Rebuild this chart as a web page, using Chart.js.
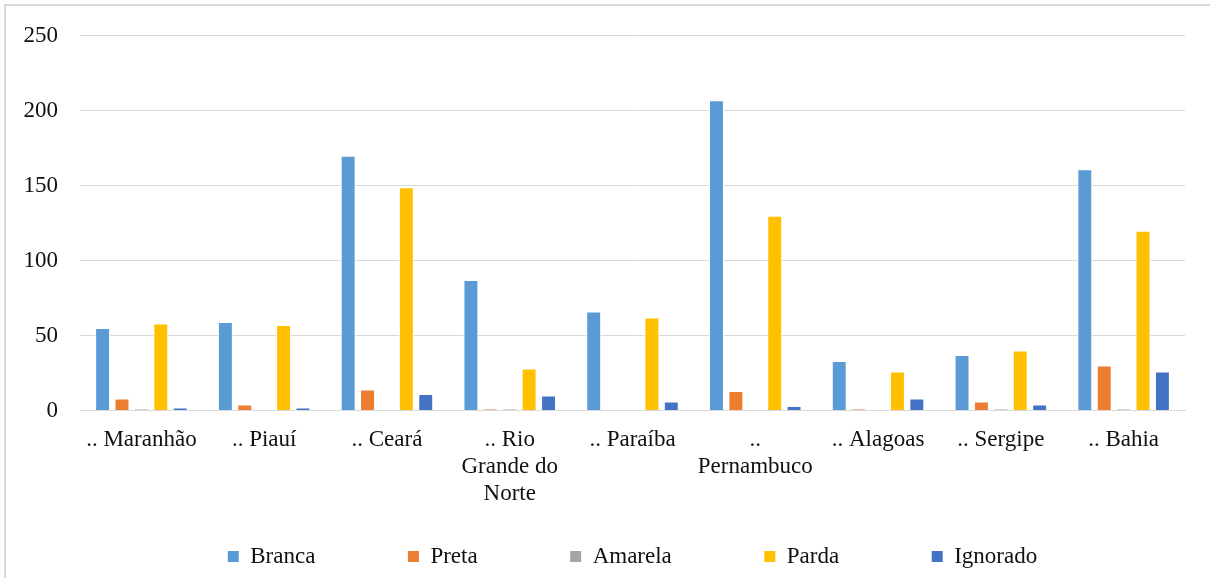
<!DOCTYPE html>
<html>
<head>
<meta charset="utf-8">
<script src="https://cdn.jsdelivr.net/npm/chart.js@4"></script>
<style>
  html, body { margin: 0; padding: 0; background: #fff; }
  #wrap { position: relative; width: 1210px; height: 578px; }
</style>
</head>
<body>
<div id="wrap"><canvas id="racaChart" width="1210" height="578"></canvas></div>
<script>
const ctx = document.querySelector("#racaChart");

const estados = [
  [".. Maranhão"],
  [".. Piauí"],
  [".. Ceará"],
  [".. Rio", "Grande do", "Norte"],
  [".. Paraíba"],
  ["..", "Pernambuco"],
  [".. Alagoas"],
  [".. Sergipe"],
  [".. Bahia"],
];

const branca = [55, 59, 170, 87, 66, 207, 33, 37, 161];
const preta = [8, 4, 14, 1, 0, 13, 1, 6, 30];
const amarela = [1, 0, 0, 1, 0, 0, 0, 1, 1];
const parda = [58, 57, 149, 28, 62, 130, 26, 40, 120];
const ignorado = [2, 2, 11, 10, 6, 3, 8, 4, 26];

const fonte = "'Liberation Serif', 'Times New Roman', serif";

// moldura cinza do grafico (como no Excel)
const moldura = {
  id: "moldura",
  beforeDraw(chart) {
    const c = chart.ctx;
    c.save();
    c.strokeStyle = "#d9d9d9";
    c.lineWidth = 2;
    c.beginPath();
    c.moveTo(1210, 5);
    c.lineTo(5, 5);
    c.lineTo(5, 578);
    c.stroke();
    c.restore();
  },
};

// a legenda no original fica um pouco para a direita (grafico cortado)
const legendaDireita = {
  id: "legendaDireita",
  afterUpdate(chart) {
    chart.legend.left += 40;
    chart.legend.right += 40;
  },
};

const espacos = " ".repeat(14);

function serie(label, data, cor) {
  return {
    label: label,
    data: data,
    backgroundColor: cor,
    borderColor: "#ffffff",
    borderWidth: 1,
    barPercentage: 0.77,
    categoryPercentage: 0.79,
  };
}

new Chart(ctx, {
  type: "bar",
  data: {
    labels: estados,
    datasets: [
      serie("Branca", branca, "#5B9BD5"),
      serie("Preta", preta, "#ED7D31"),
      serie("Amarela", amarela, "#A5A5A5"),
      serie("Parda", parda, "#FFC000"),
      serie("Ignorado", ignorado, "#4472C4"),
    ],
  },
  options: {
    responsive: false,
    animation: false,
    layout: {
      padding: { left: 0, right: 25, top: 34, bottom: 0 },
    },
    plugins: {
      tooltip: { enabled: false },
      legend: {
        position: "bottom",
        labels: {
          boxWidth: 11,
          boxHeight: 11,
          padding: 12,
          color: "#111",
          font: { family: fonte, size: 23 },
          generateLabels(chart) {
            const itens = Chart.defaults.plugins.legend.labels.generateLabels(chart);
            itens.forEach((it, i) => {
              it.lineWidth = 0;
              if (i < itens.length - 1) it.text = it.text + espacos;
            });
            return itens;
          },
        },
      },
    },
    scales: {
      x: {
        grid: { display: false, drawTicks: false },
        border: { display: true, color: "#d9d9d9", width: 1 },
        ticks: {
          color: "#111",
          padding: 16,
          maxRotation: 0,
          autoSkip: false,
          font: { family: fonte, size: 23, lineHeight: 1.17 },
        },
        afterFit(scale) {
          scale.height = 122.5;
        },
      },
      y: {
        min: 0,
        max: 250,
        grid: { color: "#d9d9d9", lineWidth: 1, drawTicks: false },
        border: { display: false },
        ticks: {
          stepSize: 50,
          color: "#111",
          padding: 22,
          font: { family: fonte, size: 23 },
        },
        afterFit(scale) {
          scale.width = 80;
        },
      },
    },
  },
  plugins: [moldura, legendaDireita],
});
</script>
</body>
</html>
